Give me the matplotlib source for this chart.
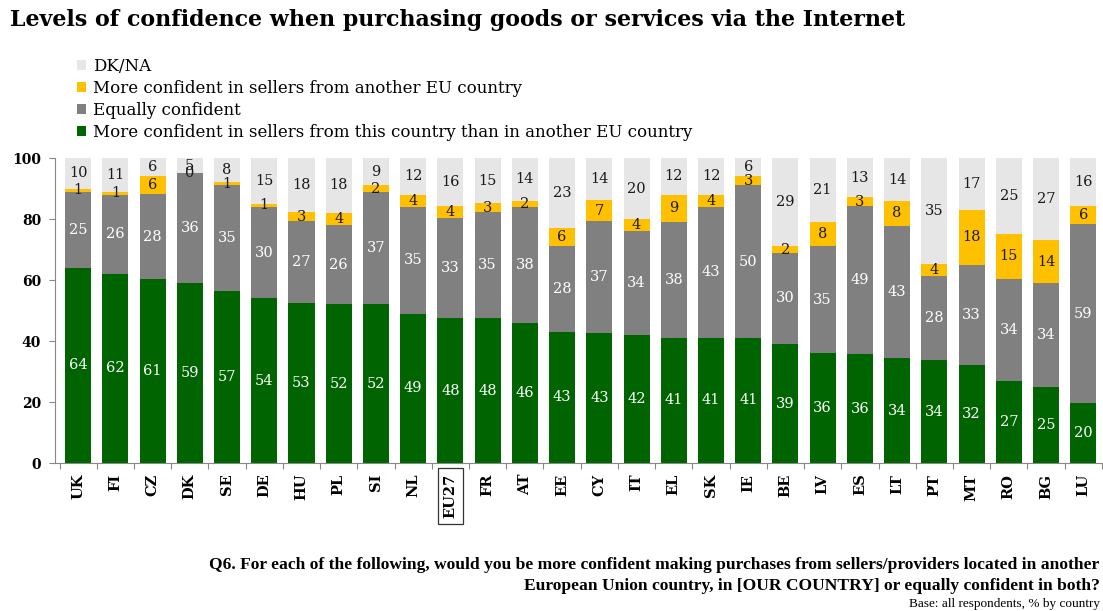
import numpy as np
import matplotlib.pyplot as plt

countries = ['UK', 'FI', 'CZ', 'DK', 'SE', 'DE', 'HU', 'PL', 'SI', 'NL', 'EU27', 'FR', 'AT', 'EE',
             'CY', 'IT', 'EL', 'SK', 'IE', 'BE', 'LV', 'ES', 'LT', 'PT', 'MT', 'RO', 'BG', 'LU']
this_country = [64, 62, 61, 59, 57, 54, 53, 52, 52, 49, 48, 48, 46, 43,
                43, 42, 41, 41, 41, 39, 36, 36, 34, 34, 32, 27, 25, 20]
equally = [25, 26, 28, 36, 35, 30, 27, 26, 37, 35, 33, 35, 38, 28,
           37, 34, 38, 43, 50, 30, 35, 49, 43, 28, 33, 34, 34, 59]
other_eu = [1, 1, 6, 0, 1, 1, 3, 4, 2, 4, 4, 3, 2, 6,
            7, 4, 9, 4, 3, 2, 8, 3, 8, 4, 18, 15, 14, 6]
dk_na = [10, 11, 6, 5, 8, 15, 18, 18, 9, 12, 16, 15, 14, 23,
         14, 20, 12, 12, 6, 29, 21, 13, 14, 35, 17, 25, 27, 16]

series = [
    (this_country, '#006400', 'white', 'More confident in sellers from this country than in another EU country'),
    (equally, '#808080', 'white', 'Equally confident'),
    (other_eu, '#FFC000', '#1a1a1a', 'More confident in sellers from another EU country'),
    (dk_na, '#E6E6E6', '#1a1a1a', 'DK/NA'),
]

SERIF = 'DejaVu Serif'
plt.rcParams['font.family'] = SERIF

fig = plt.figure(figsize=(11.03, 6.11), dpi=100)
ax = fig.add_axes([0.0499, 0.2422, 0.9491, 0.4992])

# 100% stacked: rounded answers don't always add to exactly 100
totals = np.sum([np.array(s[0], dtype=float) for s in series], axis=0)

x = np.arange(len(countries))
width = 0.7
bottom = np.zeros(len(countries))
handles = []
for vals, color, tcol, name in series:
    vals = np.array(vals, dtype=float)
    share = vals / totals * 100.0
    bars = ax.bar(x, share, width, bottom=bottom, color=color, label=name, zorder=2)
    handles.append(bars)
    for xi, b, h, v in zip(x, bottom, share, vals):
        ax.text(xi, b + h / 2.0, '%d' % v, ha='center', va='center',
                color=tcol, fontsize=10.5, family=SERIF, zorder=3, clip_on=False)
    bottom += share

ax.set_xlim(-0.62, len(countries) - 0.5)
ax.set_ylim(0, 100)
ax.set_yticks([0, 20, 40, 60, 80, 100])
ax.set_yticklabels(['0', '20', '40', '60', '80', '100'], fontsize=10, fontweight='bold')

# category boundaries carry the tick marks, labels sit under each bar
ax.set_xticks(np.arange(len(countries) + 1) - 0.5)
ax.set_xticklabels([])
ax.tick_params(axis='x', length=4, color='#888888')
ax.tick_params(axis='y', length=4, color='#888888', pad=6)
for xi, c in zip(x, countries):
    kw = {}
    if c == 'EU27':
        kw['bbox'] = dict(boxstyle='square,pad=0.4', fc='white', ec='#333333', lw=0.9)
    ax.text(xi, -3.5, c, rotation=90, ha='center', va='top', fontsize=10.5,
            fontweight='bold', transform=ax.transData, clip_on=False, **kw)

for s in ['top', 'right']:
    ax.spines[s].set_visible(False)
ax.spines['left'].set_color('#888888')
ax.spines['bottom'].set_color('#888888')

fig.text(0.009, 0.968, 'Levels of confidence when purchasing goods or services via the Internet',
         fontsize=15.9, fontweight='bold', ha='left', va='center')

leg = fig.legend(handles[::-1], [s[3] for s in series][::-1], loc='upper left',
                 bbox_to_anchor=(0.070, 0.905), frameon=False, fontsize=12,
                 handlelength=0.55, handleheight=0.55, handletextpad=0.4, labelspacing=0.3,
                 borderaxespad=0, borderpad=0)

fig.text(0.997, 0.058, 'Q6. For each of the following, would you be more confident making purchases from sellers/providers located in another\n'
         'European Union country, in [OUR COUNTRY] or equally confident in both?',
         ha='right', va='center', fontsize=12.6, fontweight='bold', family='Liberation Serif',
         linespacing=1.4)
fig.text(0.997, 0.011, 'Base: all respondents, % by country', ha='right', va='center',
         fontsize=9.5, family='Liberation Serif')

fig.savefig('out.png', dpi=100)
